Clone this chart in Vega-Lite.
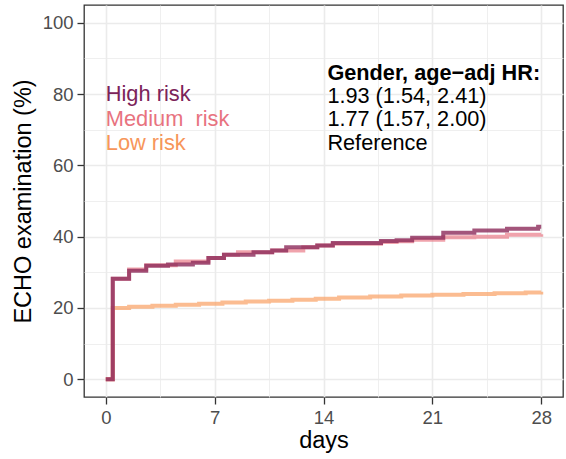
{
  "$schema": "https://vega.github.io/schema/vega-lite/v6.json",
  "width": 479,
  "height": 392,
  "autosize": {"type": "none"},
  "padding": {"left": 84, "top": 5, "right": 3, "bottom": 57},
  "config": {
    "font": "Liberation Sans",
    "view": {"stroke": "#333333", "strokeWidth": 1.3},
    "axis": {
      "domain": false,
      "gridColor": "#ebebeb",
      "tickColor": "#333333",
      "tickWidth": 1.3,
      "tickSize": 7,
      "labelColor": "#4d4d4d",
      "labelFontSize": 18.5,
      "labelFont": "Liberation Sans",
      "titleFont": "Liberation Sans",
      "titleFontSize": 23.5,
      "titleFontWeight": "normal",
      "titleColor": "#000000",
      "labelOverlap": false,
      "labelFlush": false,
      "labelBound": false
    }
  },
  "datasets": {
    "curves": [
      {"group": "Low risk", "day": 0, "pct": 0},
      {"group": "Low risk", "day": 0.45, "pct": 20.0},
      {"group": "Low risk", "day": 1.5, "pct": 20.3},
      {"group": "Low risk", "day": 3, "pct": 20.6},
      {"group": "Low risk", "day": 4.5, "pct": 20.9},
      {"group": "Low risk", "day": 6, "pct": 21.2},
      {"group": "Low risk", "day": 7.5, "pct": 21.5},
      {"group": "Low risk", "day": 9, "pct": 21.8},
      {"group": "Low risk", "day": 10.5, "pct": 22.0},
      {"group": "Low risk", "day": 12, "pct": 22.3},
      {"group": "Low risk", "day": 13.5, "pct": 22.6},
      {"group": "Low risk", "day": 15, "pct": 22.9},
      {"group": "Low risk", "day": 17, "pct": 23.2},
      {"group": "Low risk", "day": 19, "pct": 23.5},
      {"group": "Low risk", "day": 21, "pct": 23.7},
      {"group": "Low risk", "day": 23, "pct": 23.9},
      {"group": "Low risk", "day": 25, "pct": 24.1},
      {"group": "Low risk", "day": 27, "pct": 24.3},
      {"group": "Low risk", "day": 28, "pct": 24.5},
      {"group": "Medium risk", "day": 0, "pct": 0},
      {"group": "Medium risk", "day": 0.45, "pct": 28.2},
      {"group": "Medium risk", "day": 1.5, "pct": 30.8},
      {"group": "Medium risk", "day": 2.6, "pct": 32.0},
      {"group": "Medium risk", "day": 4.5, "pct": 33.0},
      {"group": "Medium risk", "day": 6.6, "pct": 34.0},
      {"group": "Medium risk", "day": 7.6, "pct": 34.9},
      {"group": "Medium risk", "day": 8.5, "pct": 35.6},
      {"group": "Medium risk", "day": 10.7, "pct": 36.1},
      {"group": "Medium risk", "day": 12.7, "pct": 37.0},
      {"group": "Medium risk", "day": 13.6, "pct": 37.5},
      {"group": "Medium risk", "day": 14.6, "pct": 38.0},
      {"group": "Medium risk", "day": 17.7, "pct": 38.5},
      {"group": "Medium risk", "day": 18.7, "pct": 38.7},
      {"group": "Medium risk", "day": 19.7, "pct": 39.1},
      {"group": "Medium risk", "day": 21.7, "pct": 39.8},
      {"group": "Medium risk", "day": 23.7, "pct": 40.0},
      {"group": "Medium risk", "day": 25.8, "pct": 40.5},
      {"group": "Medium risk", "day": 28, "pct": 40.7},
      {"group": "High risk", "day": 0, "pct": 0},
      {"group": "High risk", "day": 0.45, "pct": 28.2},
      {"group": "High risk", "day": 1.5, "pct": 30.4},
      {"group": "High risk", "day": 2.6, "pct": 31.8},
      {"group": "High risk", "day": 4.0, "pct": 32.2},
      {"group": "High risk", "day": 5.6, "pct": 32.7},
      {"group": "High risk", "day": 6.6, "pct": 34.0},
      {"group": "High risk", "day": 7.6, "pct": 34.9},
      {"group": "High risk", "day": 9.5, "pct": 35.6},
      {"group": "High risk", "day": 10.7, "pct": 36.1},
      {"group": "High risk", "day": 11.6, "pct": 37.0},
      {"group": "High risk", "day": 13.6, "pct": 37.5},
      {"group": "High risk", "day": 14.6, "pct": 38.2},
      {"group": "High risk", "day": 17.7, "pct": 38.8},
      {"group": "High risk", "day": 18.7, "pct": 39.0},
      {"group": "High risk", "day": 19.7, "pct": 39.7},
      {"group": "High risk", "day": 21.7, "pct": 41.1},
      {"group": "High risk", "day": 23.7, "pct": 41.7},
      {"group": "High risk", "day": 25.8, "pct": 42.2},
      {"group": "High risk", "day": 27.8, "pct": 42.8},
      {"group": "High risk", "day": 28, "pct": 42.8}
    ],
    "labels": [
      {"day": 0, "pct": 80, "label": "High risk", "group": "High risk"},
      {"day": 0, "pct": 73, "label": "Medium\u00a0 risk", "group": "Medium risk"},
      {"day": 0, "pct": 66.3, "label": "Low risk", "group": "Low risk"}
    ],
    "hr": [
      {"day": 14.25, "pct": 79.6, "label": "1.93 (1.54, 2.41)"},
      {"day": 14.25, "pct": 73, "label": "1.77 (1.57, 2.00)"},
      {"day": 14.25, "pct": 66.3, "label": "Reference"}
    ],
    "header": [
      {"day": 14.25, "pct": 86, "label": "Gender, age−adj HR:"}
    ]
  },
  "encoding": {
    "x": {
      "field": "day",
      "type": "quantitative",
      "scale": {"domain": [-1.4, 29.4], "nice": false, "zero": false},
      "axis": {
        "title": "days",
        "values": [0, 3.5, 7, 10.5, 14, 17.5, 21, 24.5, 28],
        "labelExpr": "datum.value % 7 === 0 ? datum.label : ''",
        "gridWidth": {"condition": {"test": "datum.value % 7 === 0", "value": 1.6}, "value": 0.8},
        "tickOpacity": {"condition": {"test": "datum.value % 7 === 0", "value": 1}, "value": 0},
        "labelPadding": 4,
        "titlePadding": 2
      }
    },
    "y": {
      "field": "pct",
      "type": "quantitative",
      "scale": {"domain": [-5, 105], "nice": false, "zero": false},
      "axis": {
        "title": "ECHO examination (%)",
        "values": [0, 10, 20, 30, 40, 50, 60, 70, 80, 90, 100],
        "labelExpr": "datum.value % 20 === 0 ? datum.label : ''",
        "gridWidth": {"condition": {"test": "datum.value % 20 === 0", "value": 1.6}, "value": 0.8},
        "tickOpacity": {"condition": {"test": "datum.value % 20 === 0", "value": 1}, "value": 0},
        "labelPadding": 4,
        "titlePadding": 7
      }
    }
  },
  "layer": [
    {
      "data": {"name": "curves"},
      "transform": [{"filter": "datum.group === 'Low risk'"}],
      "mark": {"type": "line", "interpolate": "step-after", "color": "#f9a266", "opacity": 0.72, "strokeWidth": 4}
    },
    {
      "data": {"name": "curves"},
      "transform": [{"filter": "datum.group === 'Medium risk'"}],
      "mark": {"type": "line", "interpolate": "step-after", "color": "#e8727f", "opacity": 0.65, "strokeWidth": 4}
    },
    {
      "data": {"name": "curves"},
      "transform": [{"filter": "datum.group === 'High risk'"}],
      "mark": {"type": "line", "interpolate": "step-after", "color": "#8c2a5a", "opacity": 0.8, "strokeWidth": 4}
    },
    {
      "data": {"name": "labels"},
      "mark": {"type": "text", "align": "left", "baseline": "middle", "fontSize": 21.8, "font": "Liberation Sans"},
      "encoding": {
        "text": {"field": "label"},
        "color": {
          "field": "group",
          "type": "nominal",
          "scale": {"domain": ["High risk", "Medium risk", "Low risk"], "range": ["#7b2359", "#e8737f", "#f7965a"]},
          "legend": null
        }
      }
    },
    {
      "data": {"name": "hr"},
      "mark": {"type": "text", "align": "left", "baseline": "middle", "fontSize": 21.7, "font": "Liberation Sans", "color": "#000000"},
      "encoding": {"text": {"field": "label"}}
    },
    {
      "data": {"name": "header"},
      "mark": {"type": "text", "align": "left", "baseline": "middle", "fontSize": 21.7, "fontWeight": "bold", "font": "Liberation Sans", "color": "#000000"},
      "encoding": {"text": {"field": "label"}}
    }
  ]
}
